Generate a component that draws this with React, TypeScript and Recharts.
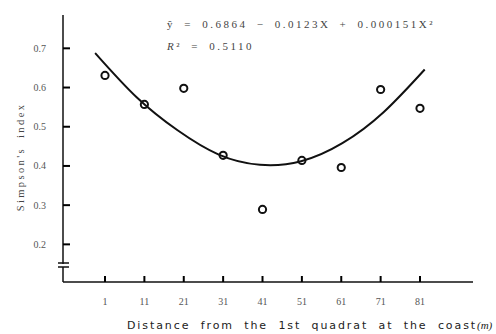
import React from "react";
import { ComposedChart, Line, Scatter, XAxis, YAxis } from "recharts";

const distances = [1, 11, 21, 31, 41, 51, 61, 71, 81];
const simpsonIndex = [0.631, 0.557, 0.598, 0.427, 0.289, 0.414, 0.396, 0.595, 0.547];
const curveX = [-1.5, 8.96, 19.43, 29.89, 40.35, 50.81, 61.28, 71.74, 82.2];
const curveY = [0.688, 0.576, 0.491, 0.429, 0.403, 0.412, 0.458, 0.537, 0.646];
const yTicks = [0.2, 0.3, 0.4, 0.5, 0.6, 0.7];
const yTickLabels = ["0.2", "0.3", "0.4", "0.5", "0.6", "0.7"];

const points = distances.map((d, i) => ({ x: d, y: simpsonIndex[i] }));
const curve = curveX.map((d, i) => ({ x: d, y: curveY[i] }));

const serif = "'Liberation Serif', 'DejaVu Serif', serif";
const sans = "'DejaVu Sans', 'Liberation Sans', sans-serif";

const Y_MARGIN = 17;
const X_MARGIN = 16;

const YTick = (p: any) => {
  const ax = Number(p.x) + Y_MARGIN;
  const y = Number(p.y);
  const v = p.payload.value;
  return (
    <g>
      <line x1={ax} x2={ax + 7} y1={y} y2={y} stroke="#000" strokeWidth={2} />
      <text x={Number(p.x)} y={y} dy="0.35em" textAnchor="end" fontSize={10} fontFamily={serif} fill="#555">
        {yTickLabels[yTicks.indexOf(v)] ?? String(v)}
      </text>
    </g>
  );
};

const XTick = (p: any) => {
  const x = Number(p.x);
  const ay = Number(p.y) - X_MARGIN;
  return (
    <g>
      <line x1={x} x2={x} y1={ay} y2={ay - 6} stroke="#000" strokeWidth={2} />
      <text x={x} y={Number(p.y)} dy="0.71em" textAnchor="middle" fontSize={10} fontFamily={serif} fill="#555">
        {String(p.payload.value)}
      </text>
    </g>
  );
};

export default function App() {
  return (
    <div style={{ position: "absolute", left: 0, top: 0, width: 496, height: 334, background: "#fff" }}>
      <ComposedChart
        width={496}
        height={334}
        margin={{ top: 15, right: 23, bottom: 22, left: 23 }}
      >
        <XAxis
          type="number"
          dataKey="x"
          domain={[-9.67, 94.46]}
          allowDataOverflow
          ticks={distances}
          interval={0}
          height={30}
          tickSize={0}
          tickMargin={X_MARGIN}
          tickLine={false}
          tick={XTick}
          axisLine={{ stroke: "#111", strokeWidth: 1.5 }}
        />
        <YAxis
          type="number"
          dataKey="y"
          domain={[0.104, 0.785]}
          allowDataOverflow
          ticks={yTicks}
          interval={0}
          width={40}
          tickSize={0}
          tickMargin={Y_MARGIN}
          tickLine={false}
          tick={YTick}
          axisLine={{ stroke: "#111", strokeWidth: 1.5 }}
        />
        <Line
          data={curve}
          dataKey="y"
          type="natural"
          stroke="#111"
          strokeWidth={2}
          dot={false}
          isAnimationActive={false}
        />
        <Scatter
          data={points}
          dataKey="y"
          isAnimationActive={false}
          shape={(p: any) => (
            <circle cx={p.cx} cy={p.cy} r={3.6} fill="none" stroke="#111" strokeWidth={2} />
          )}
        />
      </ComposedChart>
      <svg
        width={496}
        height={334}
        style={{ position: "absolute", left: 0, top: 0, pointerEvents: "none" }}
      >
        <rect x={59} y={264} width={8} height={3} fill="#fff" />
        <line x1={58} x2={69} y1={263} y2={263} stroke="#111" strokeWidth={1.5} />
        <line x1={58} x2={69} y1={267} y2={267} stroke="#111" strokeWidth={1.5} />
        <text
          x={0}
          y={0}
          transform="translate(24,157) rotate(-90)"
          textAnchor="middle"
          fontFamily={serif}
          fontSize={10.5}
          letterSpacing={2.4}
          wordSpacing={4}
          fill="#444"
        >
          Simpson's index
        </text>
        <text
          x={127}
          y={329}
          fontFamily={sans}
          fontSize={11}
          letterSpacing={1.9}
          wordSpacing={5}
          fill="#222"
        >
          Distance from the 1st quadrat at the coast
          <tspan fontStyle="italic" fontFamily={serif} letterSpacing={0}>(m)</tspan>
        </text>
        <text
          x={167}
          y={28}
          fontFamily={serif}
          fontSize={11}
          letterSpacing={2.5}
          wordSpacing={4}
          fill="#444"
        >
          ŷ = 0.6864 − 0.0123X + 0.000151X²
        </text>
        <text
          x={167}
          y={50}
          fontFamily={serif}
          fontSize={11}
          letterSpacing={2.5}
          wordSpacing={4}
          fill="#444"
        >
          <tspan fontStyle="italic">R</tspan>² = 0.5110
        </text>
      </svg>
    </div>
  );
}
